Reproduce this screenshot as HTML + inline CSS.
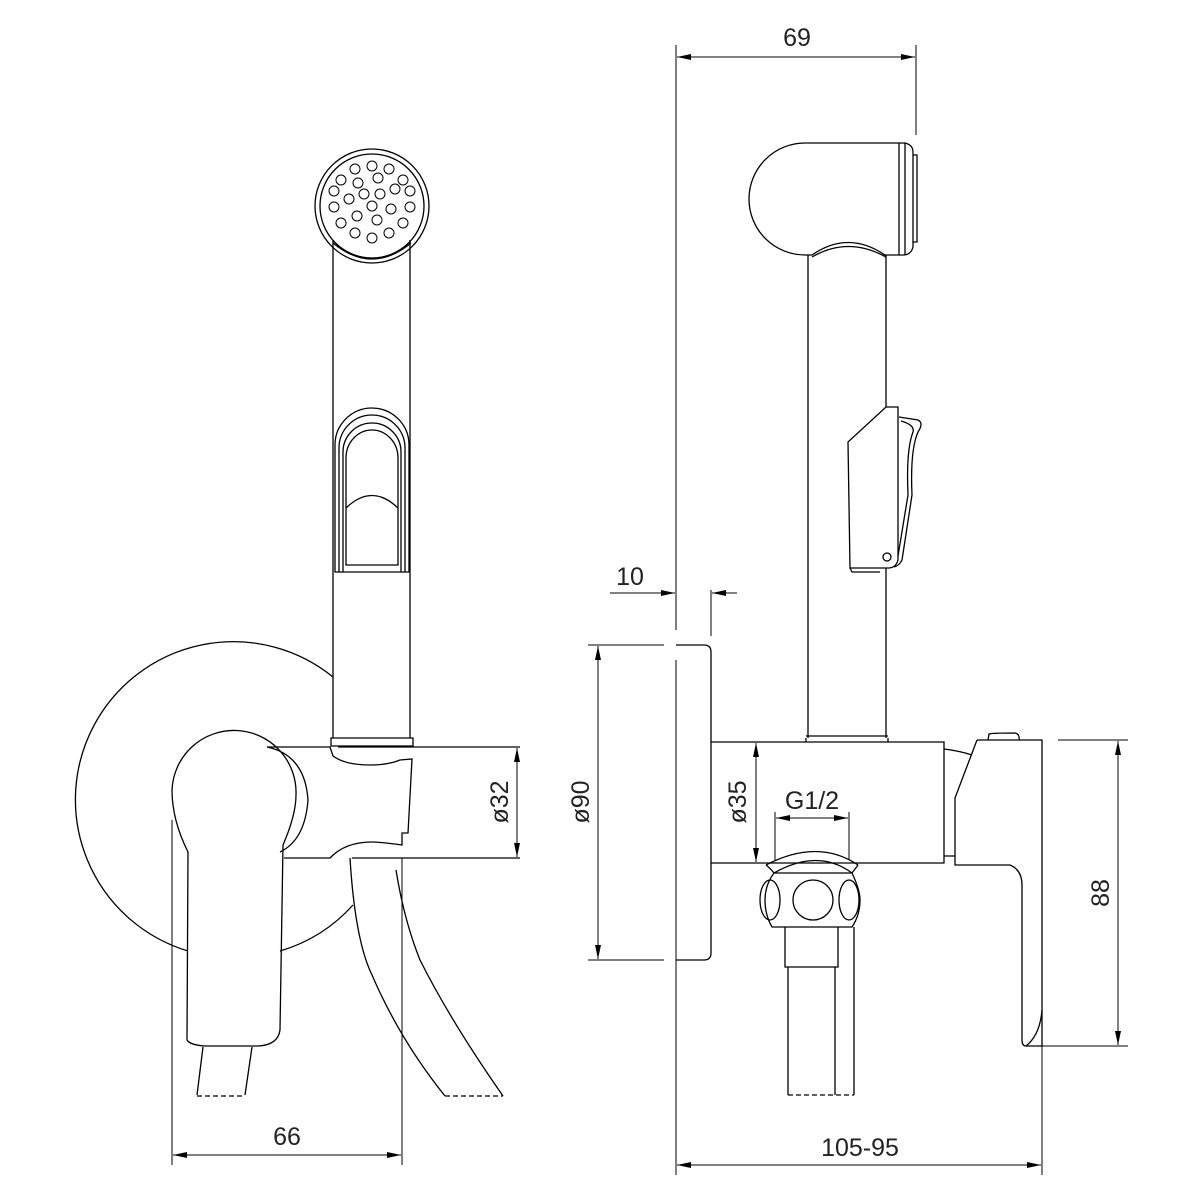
<!DOCTYPE html>
<html><head><meta charset="utf-8"><style>
html,body{margin:0;padding:0;background:#fff}
svg{display:block}
text{font-family:"Liberation Sans",sans-serif;font-size:25px;fill:#222;font-weight:normal}
</style></head><body>
<svg width="1200" height="1200" viewBox="0 0 1200 1200" xmlns="http://www.w3.org/2000/svg">
<defs>
<marker id="a" viewBox="0 0 14 6" refX="14" refY="3" markerWidth="14" markerHeight="6" orient="auto" markerUnits="userSpaceOnUse"><path d="M0,0 L14,3 L0,6 z" fill="#000"/></marker>
</defs>
<g fill="none" stroke="#000" stroke-width="1.3">
<!-- LEFT VIEW -->
<!-- rosette -->
<path d="M333,677 A158,158 0 1 0 188,951"/>
<path d="M280,951 A158,158 0 0 0 353,905"/>
<!-- shower head -->
<circle cx="372" cy="206" r="57"/>
<circle cx="372" cy="206" r="52"/>
<path d="M333,243 Q372,275 411,243"/>
<g stroke-width="1">
<circle cx="372" cy="166" r="5"/><circle cx="355" cy="169" r="5"/><circle cx="389" cy="169" r="5"/>
<circle cx="341" cy="180" r="5"/><circle cx="403" cy="180" r="5"/><circle cx="358" cy="183" r="5"/><circle cx="378" cy="178" r="5"/>
<circle cx="334" cy="191" r="5"/><circle cx="410" cy="191" r="5"/><circle cx="364" cy="194" r="5"/><circle cx="380" cy="194" r="5"/><circle cx="395" cy="189" r="5"/>
<circle cx="349" cy="199" r="5"/><circle cx="334" cy="207" r="5"/><circle cx="410" cy="207" r="5"/><circle cx="372" cy="206" r="5"/><circle cx="391" cy="209" r="5"/>
<circle cx="357" cy="216" r="5"/><circle cx="377" cy="220" r="5"/><circle cx="341" cy="223" r="5"/><circle cx="403" cy="223" r="5"/>
<circle cx="355" cy="233" r="5"/><circle cx="372" cy="238" r="5"/><circle cx="389" cy="233" r="5"/>
</g>
<!-- body -->
<path d="M333,240 L333,738 M410,240 L410,738"/>
<path d="M331,738 L331,746 L413,746 L413,738 Z"/>
<!-- trigger arch -->
<path d="M335,572 L335,445 A37,37 0 0 1 409,445 L409,572 Z"/>
<path d="M339,572 L339,448 A33,33 0 0 1 405,448 L405,572"/>
<path d="M343,572 L343,452 A29,29 0 0 1 401,452 L401,572"/>
<path d="M346,565 L346,458 A26,28 0 0 1 398,458 L398,565 Z"/>
<path d="M346,508 Q372,483 398,508"/>
<!-- holder -->
<path d="M267,747 L330,747 L333,756 Q345,765 370,765 Q388,765 400,760 L412,759 L408,833 L402,833 L402,845 Q380,842 372,842 Q345,842 330,858 L284,858"/>
<path d="M338,747 L413,747 L420,747 L520,747 M352,858 L520,858"/>
<path d="M267,747 Q305,755 308,800 Q305,840 280,852"/>
<!-- lever -->
<path d="M187,1040 L188,852 Q172,820 172,790 A62,62 0 0 1 296,795 Q296,815 283,845 L280,1030 Q278,1045 258,1046 L205,1046 Q190,1045 187,1040"/>
<!-- left hose -->
<path d="M203,1047 L197,1095 M252,1047 L245,1095"/>
<path d="M197,1096 L245,1096" stroke-dasharray="5,3"/>
<!-- right hose -->
<path d="M350,858 Q355,940 372,975 Q400,1040 445,1096 M396,870 Q404,920 420,960 Q450,1020 503,1096"/>
<path d="M445,1096 L503,1096" stroke-dasharray="5,3"/>
<!-- extensions & dims -->
<path d="M172,820 L172,1165 M402,858 L402,1165" stroke-width="1"/>
<line x1="287" y1="1155" x2="173" y2="1155" marker-end="url(#a)" stroke-width="1"/>
<line x1="287" y1="1155" x2="401" y2="1155" marker-end="url(#a)" stroke-width="1"/>
<line x1="517" y1="800" x2="517" y2="748" marker-end="url(#a)" stroke-width="1"/>
<line x1="517" y1="800" x2="517" y2="857" marker-end="url(#a)" stroke-width="1"/>

<!-- RIGHT VIEW -->
<g stroke-width="1">
<path d="M676,45 L676,630 M676,660 L676,1175 M916,45 L916,135"/>
<line x1="797" y1="57" x2="677" y2="57" marker-end="url(#a)"/>
<line x1="797" y1="57" x2="915" y2="57" marker-end="url(#a)"/>
<line x1="610" y1="593" x2="675" y2="593" marker-end="url(#a)"/>
<line x1="737" y1="593" x2="712" y2="593" marker-end="url(#a)"/>
<path d="M711,590 L711,636"/>
<path d="M588,645 L664,645 M588,960 L664,960"/>
<line x1="598" y1="800" x2="598" y2="646" marker-end="url(#a)"/>
<line x1="598" y1="800" x2="598" y2="959" marker-end="url(#a)"/>
<line x1="756" y1="800" x2="756" y2="743" marker-end="url(#a)"/>
<line x1="756" y1="800" x2="756" y2="862" marker-end="url(#a)"/>
<path d="M775,812 L775,860 M849,812 L849,860"/>
<line x1="812" y1="818" x2="776" y2="818" marker-end="url(#a)"/>
<line x1="812" y1="818" x2="848" y2="818" marker-end="url(#a)"/>
<path d="M1058,740 L1128,740 M1042,1046 L1128,1046"/>
<line x1="1118" y1="893" x2="1118" y2="741" marker-end="url(#a)"/>
<line x1="1118" y1="893" x2="1118" y2="1045" marker-end="url(#a)"/>
<path d="M1042,1046 L1042,1175"/>
<line x1="860" y1="1165" x2="677" y2="1165" marker-end="url(#a)"/>
<line x1="860" y1="1165" x2="1041" y2="1165" marker-end="url(#a)"/>
</g>
<!-- head side -->
<path d="M805,143 L905,143 Q913,145 913,152 L913,247 Q911,255 903,255 L885,255 Q848,230 812,255 L805,255 A56,56 0 0 1 805,143 Z"/>
<path d="M899,143 L899,255 M905,143 L905,255"/>
<path d="M913,155 L917,155 L917,242 L913,242"/>
<path d="M812,257 Q848,236 886,257"/>
<!-- body side -->
<path d="M808,255 L808,738 M886,255 L886,407 M886,568 L886,738"/>
<path d="M806,738 L806,742 M888,738 L888,742 M806,736 L888,736"/>
<!-- trigger side -->
<path d="M886,407 L898,407 L898,560 Q896,568 888,568 L850,568 L848,442 Z"/>
<path d="M899,417 L918,420 Q924,423 918,432 Q910,450 912,495 L902,560 Q899,566 894,567"/>
<path d="M901,421 Q915,425 913,432 Q906,450 908,495 L898,556"/>
<circle cx="887" cy="557" r="4"/>
<path d="M850,568 L852,572 L880,572"/>
<!-- wall plate -->
<path d="M676,645 L704,645 Q711,645 711,652 L711,953 Q711,960 704,960 L676,960"/>
<!-- main body -->
<path d="M711,742 L944,742 L944,863 L711,863"/>
<path d="M944,749 Q960,751 972,755 M944,856 L955,856"/>
<!-- lever side -->
<path d="M977,740 L1042,740 L1042,1046 L1026,1046"/>
<path d="M977,740 L955,798 L955,865 L1010,865 Q1022,870 1022,885 L1022,1040 Q1022,1046 1026,1046 Q1040,1035 1042,1010"/>
<path d="M988,740 L989,734 Q992,733 1015,733 Q1020,734 1019,740"/>
<!-- union -->
<path d="M766,865 Q818,838 858,865 M774,873 Q818,848 852,873 M766,865 Q771,869 774,873 M858,865 Q855,869 852,873"/>
<path d="M774,873 L852,873 Q860,890 860,900 Q860,915 852,927 L772,927 Q765,915 765,900 Q765,885 774,873 Z"/>
<circle cx="813" cy="900" r="20"/>
<ellipse cx="770" cy="900" rx="10" ry="20"/>
<ellipse cx="849" cy="900" rx="10" ry="20"/>
<path d="M785,927 L785,967 L838,967 L838,927 M788,967 L788,1095 M835,967 L835,1095 M854,927 L854,1095"/>
<path d="M788,1095 L854,1095" stroke-dasharray="5,3"/>
</g>
<text x="797" y="46" text-anchor="middle">69</text>
<text x="630" y="585" text-anchor="middle">10</text>
<text x="287" y="1145" text-anchor="middle">66</text>
<text x="860" y="1156" text-anchor="middle">105-95</text>
<text x="812" y="809" text-anchor="middle">G1/2</text>
<text transform="translate(508,802) rotate(-90)" text-anchor="middle">ø32</text>
<text transform="translate(589,802) rotate(-90)" text-anchor="middle">ø90</text>
<text transform="translate(746,802) rotate(-90)" text-anchor="middle">ø35</text>
<text transform="translate(1109,893) rotate(-90)" text-anchor="middle">88</text>
</svg>
</body></html>
